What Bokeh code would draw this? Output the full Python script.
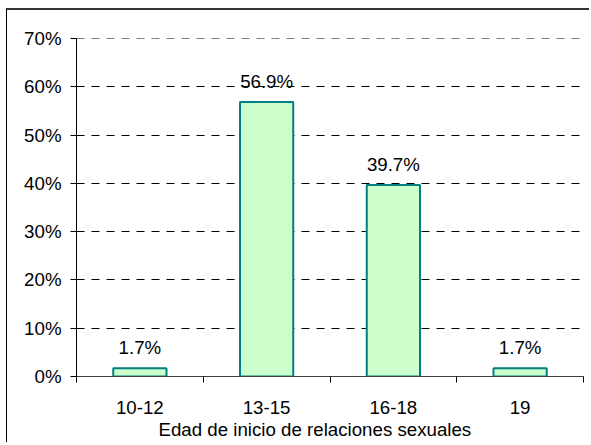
from bokeh.plotting import figure
from bokeh.models import ColumnDataSource, Range1d, FixedTicker, Title
from bokeh.embed import file_html
from bokeh.resources import INLINE
from bokeh.core.properties import value

categories = ["10-12", "13-15", "16-18", "19"]
percentages = [1.7, 56.9, 39.7, 1.7]
y_ticks = [0, 10, 20, 30, 40, 50, 60, 70]
y_tick_labels = ["0%", "10%", "20%", "30%", "40%", "50%", "60%", "70%"]
x_title = "Edad de inicio de relaciones sexuales"

FONT = "Liberation Sans"
FS = "18.7px"

xs = [i + 0.5 for i in range(len(categories))]
src = ColumnDataSource(dict(
    x=xs, top=percentages,
    label=[f"{v:.1f}%" for v in percentages],
))

p = figure(width=583, height=434, output_backend="svg", toolbar_location=None,
           x_range=Range1d(0, len(categories)), y_range=Range1d(0, 70.05),
           min_border_left=69, min_border_right=7, min_border_top=28,
           min_border_bottom=68,
           styles={"margin-left": "6px", "margin-top": "8px",
                   "border-left": "1px solid black",
                   "border-top": "2px solid #333333"})
p.outline_line_color = None
p.background_fill_color = "white"
p.border_fill_color = "white"

p.vbar(x="x", top="top", width=0.42, bottom=0, source=src,
       fill_color="#CCFFCC", line_color="#008080", line_width=2)
p.text(x="x", y="top", text="label", source=src, text_align="center",
       text_baseline="bottom", y_offset=-10,
       text_font=value(FONT), text_font_size=FS, text_color="black")

# y axis
p.yaxis.ticker = FixedTicker(ticks=y_ticks)
p.yaxis.major_label_overrides = {t: l for t, l in zip(y_ticks, y_tick_labels)}
p.yaxis.major_tick_out = 6
p.yaxis.major_tick_in = 0
p.yaxis.minor_tick_line_color = None
p.yaxis.major_label_standoff = 9
p.yaxis.axis_line_color = "black"
p.yaxis.major_tick_line_color = "black"
p.yaxis.major_label_text_font = FONT
p.yaxis.major_label_text_font_size = FS
p.yaxis.major_label_text_color = "black"

# x axis: labels at centres, ticks at boundaries
p.xaxis.ticker = FixedTicker(ticks=xs, minor_ticks=list(range(len(categories) + 1)))
p.xaxis.major_label_overrides = {x: c for x, c in zip(xs, categories)}
p.xaxis.major_tick_line_color = None
p.xaxis.major_tick_out = 0
p.xaxis.major_tick_in = 0
p.xaxis.minor_tick_out = 6
p.xaxis.minor_tick_in = 0
p.xaxis.minor_tick_line_color = "black"
p.xaxis.axis_line_color = "#404040"
p.xaxis.major_label_standoff = 18
p.xaxis.major_label_text_font = FONT
p.xaxis.major_label_text_font_size = FS
p.xaxis.major_label_text_color = "black"

# axis title as a below-title, placed slightly left of the plot centre
axis_title = Title(text=x_title, align="left", offset=82, standoff=0,
                   text_font=FONT, text_font_size=FS, text_font_style="normal",
                   text_color="black")
p.add_layout(axis_title, "below")

p.xgrid.grid_line_color = None
p.ygrid.ticker = FixedTicker(ticks=y_ticks)
p.ygrid.grid_line_color = "black"
p.ygrid.grid_line_dash = "8 7"
p.ygrid.grid_line_width = 1

open("out.html", "w").write(file_html(p, INLINE))
